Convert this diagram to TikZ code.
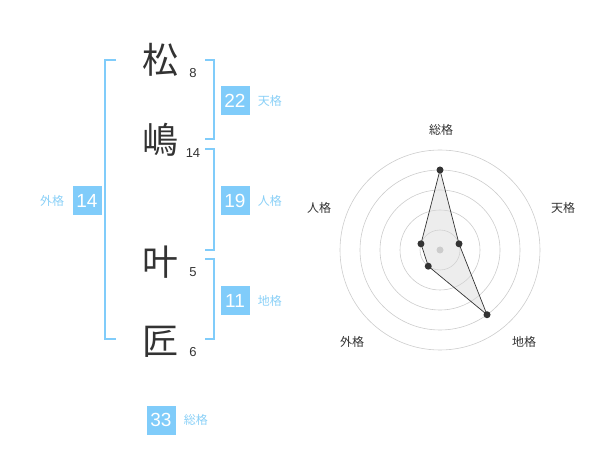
\documentclass[tikz,border=0pt]{standalone}
\usepackage{fontspec}
\setmainfont{Liberation Sans}
\newfontfamily\jp{Noto Sans CJK JP}
\usetikzlibrary{positioning}
\definecolor{seiBlue}{HTML}{80CCFA}
\definecolor{seiLabel}{HTML}{8AD0F7}
\definecolor{seiText}{HTML}{333333}
\definecolor{seiGrid}{HTML}{CCCCCC}
\definecolor{seiFill}{HTML}{D8D8D8}
\tikzset{
  kanji/.style={font=\jp\fontsize{36}{36}\selectfont, text=seiText, inner sep=0pt},
  kaku/.style={font=\fontsize{13}{13}\selectfont, text=seiText, inner sep=0pt},
  kakuBox/.style={rectangle, fill=seiBlue, text=white, minimum width=29pt,
    minimum height=29pt, inner sep=0pt, font=\fontsize{19}{19}\selectfont},
  kakuName/.style={font=\jp\fontsize{12}{12}\selectfont, text=seiLabel, inner sep=0pt},
  kakko/.style={draw=seiBlue, line width=2pt},
  jiku/.style={font=\jp\fontsize{12}{12}\selectfont, text=seiText, inner sep=0pt},
  ten/.style={circle, fill=seiText, inner sep=0pt, minimum size=7pt},
}

\begin{document}
\begin{tikzpicture}[x=1pt, y=-1pt]
    \useasboundingbox (0,0) rectangle (600,470);
    % characters and strokes
    \node[kanji] (k1) at (160,60)  {松};
    \node[kanji] (k2) at (160,140) {嶋};
    \node[kanji] (k3) at (160,262) {叶};
    \node[kanji] (k4) at (160,342) {匠};
    \node[kaku] (s1) at (193,73)  {8};
    \node[kaku] (s2) at (193,153) {14};
    \node[kaku] (s3) at (193,272) {5};
    \node[kaku] (s4) at (193,352) {6};
    % brackets
    \draw[kakko] (116,60) -- (105,60) -- (105,339) -- (116,339);
    \draw[kakko] (205,60) -- (214,60) -- (214,139) -- (205,139);
    \draw[kakko] (205,149) -- (214,149) -- (214,250) -- (205,250);
    \draw[kakko] (205,259) -- (214,259) -- (214,339) -- (205,339);
    % scores
    \node[kakuBox] (ten) at (235,101) {22};
    \node[kakuName, right=8pt of ten] (tenN) {天格};
    \node[kakuBox] (jin) at (235,201) {19};
    \node[kakuName, right=8pt of jin] (jinN) {人格};
    \node[kakuBox] (chi) at (235,301) {11};
    \node[kakuName, right=8pt of chi] (chiN) {地格};
    \node[kakuBox] (gai) at (87,201) {14};
    \node[kakuName, left=8pt of gai] (gaiN) {外格};
    \node[kakuBox] (sou) at (161,420) {33};
    \node[kakuName, right=8pt of sou] (souN) {総格};
    % radar chart
    \coordinate (c) at (440,250);
    \foreach \r in {20,40,60,80,100}
      \draw[seiGrid, line width=0.6pt] (c) circle[radius=\r];
    \coordinate (pSou) at ([shift={(-90:80)}]c);
    \coordinate (pTen) at ([shift={(-18:20)}]c);
    \coordinate (pChi) at ([shift={(54:80)}]c);
    \coordinate (pGai) at ([shift={(126:20)}]c);
    \coordinate (pJin) at ([shift={(198:20)}]c);
    \fill[seiFill, fill opacity=0.45]
      (pSou) -- (pTen) -- (pChi) -- (pGai) -- (pJin) -- cycle;
    \draw[seiText, line width=0.7pt]
      (pSou) -- (pTen) -- (pChi) -- (pGai) -- (pJin) -- cycle;
    \fill[seiGrid] (c) circle[radius=3.5];
    \foreach \p in {pSou,pTen,pChi,pGai,pJin}
      \node[ten] at (\p) {};
    \node[jiku] (aSou) at (441,130) {総格};
    \node[jiku] (aTen) at (563,208) {天格};
    \node[jiku] (aChi) at (524,342) {地格};
    \node[jiku] (aGai) at (352,342) {外格};
    \node[jiku] (aJin) at (319,208) {人格};
  \end{tikzpicture}
\end{document}
